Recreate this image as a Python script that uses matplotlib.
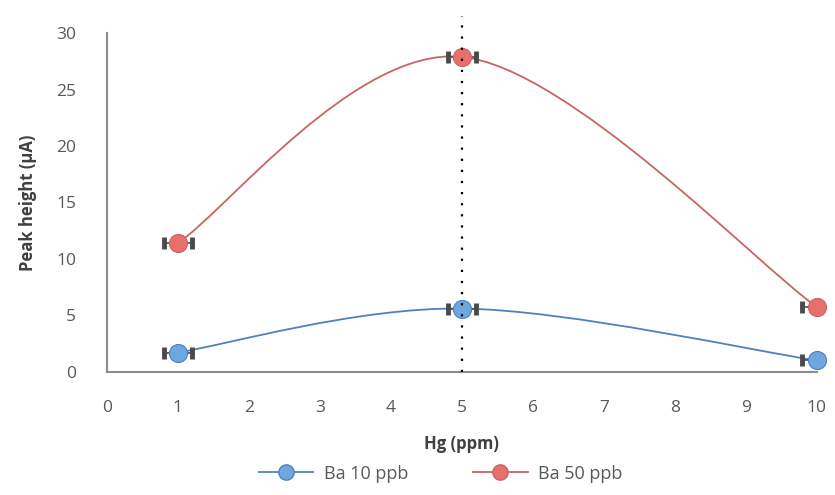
#!/usr/bin/env python3
# -*- coding: utf-8 -*-

"""
Peak height vs Hg concentration for two Ba levels (Excel-style smoothed lines).
Output: out.png
"""

import numpy as np
import matplotlib
matplotlib.use("Agg")
import matplotlib.pyplot as plt
from matplotlib.path import Path
from matplotlib.patches import PathPatch
from matplotlib.lines import Line2D

# data
hg_ppm = [1, 5, 10]
ba10_peak = [1.7, 5.6, 1.0]
ba50_peak = [11.4, 27.9, 5.75]
hg_err_lo = [0.2, 0.2, 0.2]
hg_err_hi = [0.2, 0.2, 0.0]
series_names = ["Ba 10 ppb", "Ba 50 ppb"]
x_ticks = list(range(0, 11))
y_ticks = [0, 5, 10, 15, 20, 25, 30]
ref_line_x = 5

BLUE_LINE = "#4F81BD"
BLUE_FACE = "#6EA6E0"
RED_LINE = "#C86464"
RED_FACE = "#E8706C"
CAP_COLOR = "#4a4a4a"
GRAY = "#595959"

plt.rcParams["font.family"] = ["Open Sans", "DejaVu Sans"]


def smooth_path(xs, ys):
    # Excel-like smoothing: cubic Bezier with Catmull-Rom style control points
    pts = np.column_stack([xs, ys]).astype(float)
    ext = np.vstack([pts[0], pts, pts[-1]])
    verts = [tuple(pts[0])]
    codes = [Path.MOVETO]
    for i in range(len(pts) - 1):
        p0, p1, p2, p3 = ext[i], ext[i + 1], ext[i + 2], ext[i + 3]
        c1 = p1 + (p2 - p0) / 6.0
        c2 = p2 - (p3 - p1) / 6.0
        verts += [tuple(c1), tuple(c2), tuple(p2)]
        codes += [Path.CURVE4] * 3
    return Path(verts, codes)


fig = plt.figure(figsize=(8.35, 4.95), dpi=100)
ax = fig.add_axes([0.128, 0.249, 0.850, 0.684])

for ys, lc, fc in [(ba10_peak, BLUE_LINE, BLUE_FACE),
                   (ba50_peak, RED_LINE, RED_FACE)]:
    ax.add_patch(PathPatch(smooth_path(hg_ppm, ys), facecolor="none",
                           edgecolor=lc, lw=1.3, zorder=2, clip_on=False))
    ax.errorbar(hg_ppm, ys, xerr=[hg_err_lo, hg_err_hi], fmt="none",
                ecolor=CAP_COLOR, elinewidth=1.2, capsize=4.5, capthick=3.5,
                zorder=3, clip_on=False)
    ax.plot(hg_ppm, ys, ls="none", marker="o", ms=13, mfc=fc, mec=lc,
            mew=0.8, zorder=4, clip_on=False)

# vertical dotted reference line at the optimum
ax.plot([ref_line_x, ref_line_x], [0, 31.5], color="black", lw=1.6,
        ls=(0, (1, 4)), zorder=5, clip_on=False)

ax.set_xlim(0, 10)
ax.set_ylim(0, 30)
ax.set_xticks(x_ticks)
ax.set_yticks(y_ticks)
ax.tick_params(length=0, labelsize=12.5, colors=GRAY)
ax.tick_params(axis="x", pad=20)
ax.tick_params(axis="y", pad=22)
for side in ["top", "right"]:
    ax.spines[side].set_visible(False)
for side in ["left", "bottom"]:
    ax.spines[side].set_color("#8c8c8c")
    ax.spines[side].set_linewidth(1.5)

ax.set_xlabel("Hg (ppm)", fontsize=12, fontweight="bold", color="#404040",
              labelpad=14)
ax.set_ylabel("Peak height (µA)", fontsize=12, fontweight="bold",
              color="#404040", labelpad=14)

handles = [
    Line2D([], [], color=BLUE_LINE, lw=1.3, marker="o", ms=11,
           mfc=BLUE_FACE, mec=BLUE_LINE),
    Line2D([], [], color=RED_LINE, lw=1.3, marker="o", ms=11,
           mfc=RED_FACE, mec=RED_LINE),
]
fig.legend(handles, series_names, loc="lower center",
           bbox_to_anchor=(0.528, -0.008), ncol=2, frameon=False,
           fontsize=13, labelcolor=GRAY, handlelength=3.0,
           handletextpad=0.6, columnspacing=3.6)

fig.savefig("out.png", dpi=100)
